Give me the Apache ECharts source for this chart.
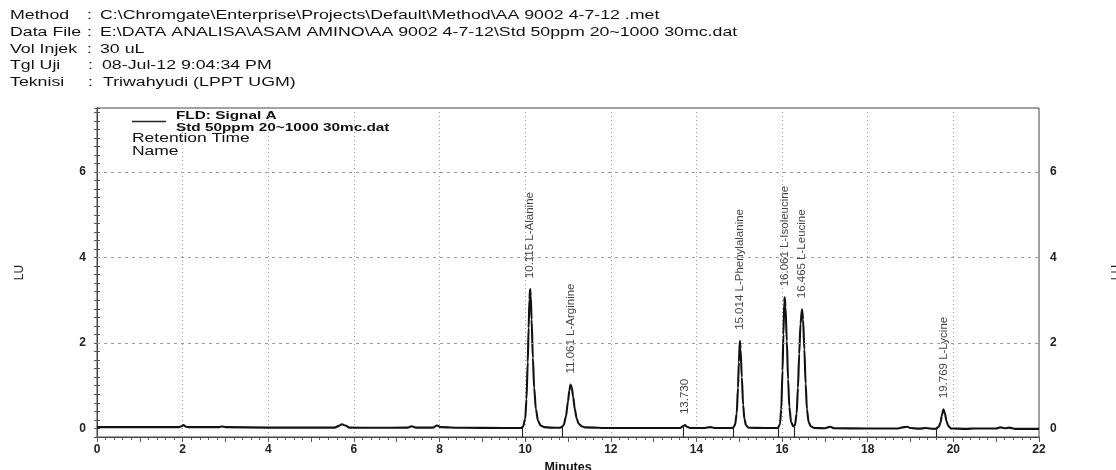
<!DOCTYPE html>
<html><head><meta charset="utf-8">
<script src="https://cdn.jsdelivr.net/npm/echarts@6/dist/echarts.min.js"></script>
<style>html,body{margin:0;padding:0;background:#fff}#c{width:1116px;height:470px}</style>
</head><body><div id="c"></div>
<script>
// ---- data ----
const traceTime = [
  0, 1.0, 1.9, 1.97, 2.02, 2.08, 2.15, 2.85, 2.92, 3.0, 4.0, 5.0, 5.55, 5.65, 5.72, 5.80, 5.90, 6.5,
  7.25, 7.35, 7.45, 7.85, 7.94, 8.03, 8.5, 9.5, 9.90,
  9.95, 10.00, 10.03, 10.06, 10.08, 10.10, 10.115, 10.13, 10.15, 10.18, 10.21, 10.25, 10.30, 10.36, 10.45,
  10.60, 10.80, 10.85, 10.90, 10.95, 11.00, 11.03, 11.061, 11.09, 11.12, 11.16, 11.20, 11.25, 11.32, 11.40,
  12.0, 12.8, 13.3, 13.62, 13.68, 13.73, 13.78, 13.85, 14.2, 14.32, 14.42, 14.85,
  14.90, 14.94, 14.97, 14.99, 15.014, 15.03, 15.06, 15.09, 15.12, 15.16, 15.22, 15.6, 15.90,
  15.95, 15.98, 16.01, 16.03, 16.05, 16.061, 16.08, 16.11, 16.14, 16.17, 16.21, 16.26,
  16.30, 16.34, 16.37, 16.40, 16.43, 16.465, 16.49, 16.52, 16.55, 16.58, 16.62, 16.67, 16.75,
  17.0, 17.12, 17.22, 18.0, 18.7, 18.85, 18.92, 19.0, 19.2, 19.35, 19.55, 19.60,
  19.66, 19.70, 19.73, 19.769, 19.80, 19.84, 19.88, 19.94, 20.3, 20.5, 21.0, 21.09, 21.2, 21.3, 21.45, 22.0
];
const traceLU = [
  0.03, 0.03, 0.03, 0.05, 0.08, 0.04, 0.03, 0.03, 0.045, 0.03, 0.02, 0.02, 0.02, 0.06, 0.10, 0.07, 0.02, 0.015,
  0.02, 0.05, 0.02, 0.02, 0.07, 0.03, 0.015, 0.01, 0.01,
  0.04, 0.22, 0.68, 1.55, 2.35, 3.02, 3.26, 3.10, 2.55, 1.65, 0.95, 0.45, 0.18, 0.07, 0.03,
  0.02, 0.015, 0.03, 0.08, 0.27, 0.63, 0.88, 1.03, 0.95, 0.74, 0.45, 0.24, 0.11, 0.05, 0.025,
  0.01, 0.01, 0.01, 0.01, 0.05, 0.08, 0.04, 0.01, 0.01, 0.03, 0.01, 0.01,
  0.08, 0.35, 0.95, 1.55, 2.05, 1.85, 1.20, 0.55, 0.22, 0.07, 0.015, 0.01, 0.01,
  0.10, 0.45, 1.35, 2.20, 2.95, 3.07, 2.85, 2.05, 1.15, 0.50, 0.15, 0.05,
  0.08, 0.35, 0.95, 1.75, 2.45, 2.79, 2.55, 1.85, 1.05, 0.45, 0.15, 0.05, 0.01,
  0.005, 0.04, 0.005, 0.0, 0.0, 0.03, 0.04, 0.01, -0.005, 0.01, -0.01, -0.005,
  0.04, 0.14, 0.30, 0.45, 0.36, 0.17, 0.06, 0.0, -0.01, 0.0, 0.0, 0.025, 0.005, 0.02, -0.01, -0.01
];
const peakRT = [10.115, 11.061, 13.730, 15.014, 16.061, 16.465, 19.769];
const peakHeight = [3.26, 1.03, 0.08, 2.05, 3.07, 2.79, 0.45];
const peakName = ['L-Alanine', 'L-Arginine', '', 'L-Phenylalanine', 'L-Isoleucine', 'L-Leucine', 'L-Lycine'];
const markerTimes = [9.92, 10.87, 13.68, 14.85, 15.90, 16.28, 19.61];
const yTickLabels = [0, 2, 4, 6];
const yGridValues = [2, 4, 6];
const headerLabels = ['Method', 'Data File', 'Vol Injek', 'Tgl Uji', 'Teknisi'];
const headerValues = [
  'C:\\Chromgate\\Enterprise\\Projects\\Default\\Method\\AA 9002 4-7-12 .met',
  'E:\\DATA ANALISA\\ASAM AMINO\\AA 9002 4-7-12\\Std 50ppm 20~1000 30mc.dat',
  '30 uL',
  '08-Jul-12 9:04:34 PM',
  'Triwahyudi (LPPT UGM)'
];
const legendLines = ['FLD: Signal A', 'Std 50ppm 20~1000 30mc.dat', 'Retention Time', 'Name'];

// ---- chart ----
const FONT = '"Liberation Sans", Arial, Helvetica, sans-serif';
const SX = 1.42;
const chart = echarts.init(document.getElementById('c'), null, {renderer: 'canvas'});

const graphics = [];
const rowY = [16, 33, 49.5, 66, 82.5];
const colonX = [87, 87, 87, 88, 88];
const valX = [100, 100, 100, 102, 103];
headerLabels.forEach((lab, i) => {
  const base = {fontFamily: FONT, fontSize: 12.5, fill: '#111', verticalAlign: 'middle', textVerticalAlign: 'middle'};
  graphics.push({type: 'text', x: 10, y: rowY[i], scaleX: SX, style: Object.assign({text: lab}, base)});
  graphics.push({type: 'text', x: colonX[i], y: rowY[i], scaleX: SX, style: Object.assign({text: ':'}, base)});
  graphics.push({type: 'text', x: valX[i], y: rowY[i], scaleX: SX, style: Object.assign({text: headerValues[i]}, base)});
});
graphics.push({type: 'line', shape: {x1: 132, y1: 121.5, x2: 166, y2: 121.5}, style: {stroke: '#222', lineWidth: 1.5}});
const legX = [176, 176, 132, 132];
const legY = [116, 127.8, 139, 151.5];
const legW = ['bold', 'bold', 'normal', 'normal'];
const legS = [10.8, 10.8, 12.3, 12.3];
legendLines.forEach((t, i) => {
  graphics.push({type: 'text', x: legX[i], y: legY[i], scaleX: SX,
    style: {text: t, fontFamily: FONT, fontWeight: legW[i], fontSize: legS[i], fill: '#111', verticalAlign: 'middle', textVerticalAlign: 'middle'}});
});

const yLabelFmt = v => yTickLabels.some(t => Math.abs(t - v) < 1e-6) ? String(Math.round(v)) : '';
const yAxisCommon = {
  type: 'value', min: -0.2, max: 7.5, interval: 0.2,
  axisLine: {show: true, lineStyle: {color: '#444', width: 1}},
  axisTick: {show: true, inside: false, length: 3, lineStyle: {color: '#555'}},
  axisLabel: {show: true, interval: 0, formatter: yLabelFmt, fontFamily: FONT, fontWeight: 'bold', fontSize: 12, color: '#222', margin: 11},
  splitLine: {show: false},
  name: 'LU', nameLocation: 'middle', nameRotate: 90,
  nameTextStyle: {fontFamily: FONT, fontSize: 12, color: '#222'}
};

const option = {
  animation: false,
  backgroundColor: '#fff',
  grid: {left: 97, right: 77, top: 108, bottom: 33, show: true, borderColor: '#444', borderWidth: 1, containLabel: false, outerBoundsMode: 'none'},
  xAxis: [
    {type: 'value', position: 'bottom', min: 0, max: 22, interval: 2,
     axisLine: {show: true, onZero: false, lineStyle: {color: '#444', width: 1}},
     axisTick: {show: true, length: 5, lineStyle: {color: '#555'}},
     minorTick: {show: true, splitNumber: 10, length: 3, lineStyle: {color: '#555'}},
     splitLine: {show: true, lineStyle: {color: '#9a9a9a', type: [1, 3], width: 1}},
     axisLabel: {fontFamily: FONT, fontWeight: 'bold', fontSize: 12, color: '#222', margin: 7},
     name: 'Minutes', nameLocation: 'middle', nameGap: 23,
     nameTextStyle: {fontFamily: FONT, fontWeight: 'bold', fontSize: 12.5, color: '#111'}},
    {type: 'value', position: 'bottom', min: 0, max: 22, interval: 1,
     axisLine: {show: false, onZero: false}, axisTick: {show: true, length: 5, lineStyle: {color: '#555'}},
     axisLabel: {show: false}, splitLine: {show: false}}
  ],
  yAxis: [
    Object.assign({}, yAxisCommon, {position: 'left', nameGap: 71}),
    Object.assign({}, yAxisCommon, {position: 'right', nameGap: 72})
  ],
  graphic: graphics,
  series: [
    {type: 'line', name: 'grid', data: [], silent: true, z: 1,
     markLine: {silent: true, symbol: 'none', label: {show: false},
       lineStyle: {color: '#9a9a9a', type: [3, 4], width: 1},
       data: yGridValues.map(v => ({yAxis: v}))}},
    {type: 'line', name: 'FLD: Signal A', xAxisIndex: 0, yAxisIndex: 0, z: 3,
     data: traceTime.map((t, i) => [t, traceLU[i]]),
     showSymbol: false, smooth: 0.3, smoothMonotone: 'x',
     lineStyle: {color: '#111', width: 2.1},
     markLine: {silent: true, symbol: 'none', label: {show: false},
       lineStyle: {color: '#222', type: 'solid', width: 1.1},
       data: markerTimes.map(t => [{coord: [t, 0.04]}, {coord: [t, -0.2]}])}},
    {type: 'scatter', name: 'labels', xAxisIndex: 0, yAxisIndex: 0, z: 4, symbolSize: 0, silent: true,
     data: peakRT.map((t, i) => ({value: [t, peakHeight[i]],
       label: {formatter: peakRT[i].toFixed(3) + (peakName[i] ? ' ' + peakName[i] : '')}})),
     label: {show: true, position: 'top', distance: 11, rotate: 90, align: 'left', verticalAlign: 'middle',
       fontFamily: FONT, fontSize: 11.5, color: '#111'}}
  ]
};
chart.setOption(option);
</script></body></html>
